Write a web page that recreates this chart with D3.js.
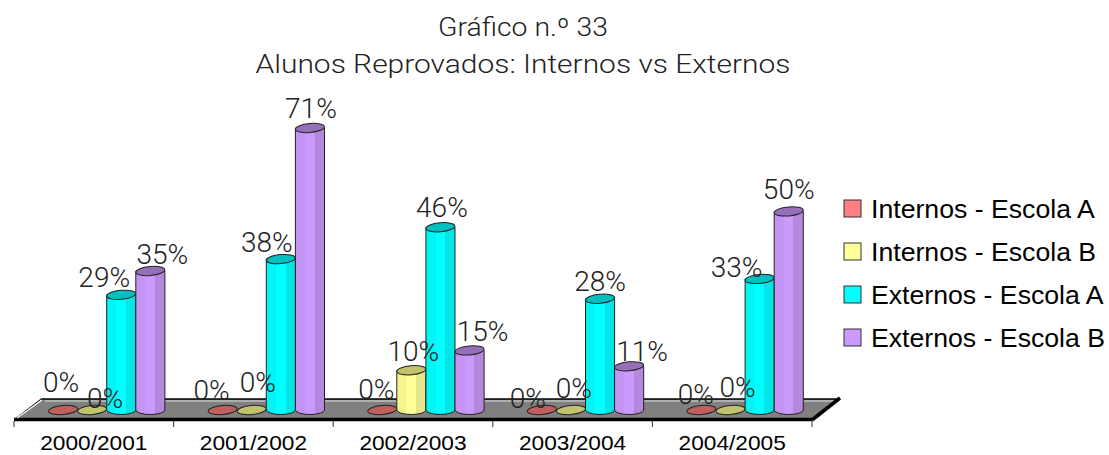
<!DOCTYPE html>
<html>
<head>
<meta charset="utf-8">
<script src="https://cdn.jsdelivr.net/npm/d3@7"></script>
<style>
html, body { margin: 0; background: #fff; }
text { font-family: "Liberation Sans", Arial, sans-serif; }
</style>
</head>
<body>
<script>
const titleLines = ["Gráfico n.º 33", "Alunos Reprovados: Internos vs Externos"];
const years = ["2000/2001", "2001/2002", "2002/2003", "2003/2004", "2004/2005"];
const seriesNames = ["Internos - Escola A", "Internos - Escola B", "Externos - Escola A", "Externos - Escola B"];
const internosA = [0, 0, 0, 0, 0];
const internosB = [0, 0, 10, 0, 0];
const externosA = [29, 38, 46, 28, 33];
const externosB = [35, 71, 15, 11, 50];
const seriesValues = [internosA, internosB, externosA, externosB];

const colors = ["#ff8080", "#ffff99", "#00ffff", "#cc99ff"];
const leftColors = ["#f57a7a", "#f5f590", "#00f5f5", "#c494f5"];
const sideColors = ["#e07070", "#e6e68a", "#00e6e6", "#b588dd"];
const topColors = ["#c05f5f", "#c2c26e", "#00bfbf", "#9470b8"];

const w = 1109, h = 455;
const svg = d3.select("body").append("svg")
    .attr("width", w)
    .attr("height", h)
    .style("display", "block");

// the original text is stretched sideways, so widen it by a factor
function stretch(sel, k) {
    sel.each(function () {
        d3.select(this)
            .attr("textLength", this.getComputedTextLength() * k)
            .attr("lengthAdjust", "spacingAndGlyphs");
    });
}

// scales, the floor runs from 14 to 812 on the front edge
const x = d3.scaleBand().domain(years).range([14, 812]);
const xBar = d3.scaleBand().domain(d3.range(4)).range([34.5, 34.5 + 4 * 29.1]);
const y = d3.scaleLinear().domain([0, 71]).range([410, 128]);

// title
svg.selectAll(".title")
    .data(titleLines)
    .enter()
    .append("text")
    .attr("class", "title")
    .attr("x", 523)
    .attr("y", (d, i) => 36 + i * 37)
    .attr("text-anchor", "middle")
    .attr("font-size", "25px")
    .style("font-family", "Roboto, 'Liberation Sans', sans-serif")
    .style("font-weight", 300)
    .attr("fill", "#222")
    .attr("textLength", (d, i) => [170, 535][i])
    .attr("lengthAdjust", "spacingAndGlyphs")
    .text(d => d);

// floor
const fx0 = x.range()[0], fx1 = x.range()[1];
const depthX = 27, backY = 399, frontY = 419;
svg.append("polygon")
    .attr("points", [[fx0, frontY], [fx0 + depthX, backY], [fx1 + depthX, backY], [fx1, frontY]].join(" "))
    .attr("fill", "#808080");
svg.append("line").attr("x1", fx0 + depthX).attr("x2", fx1 + depthX).attr("y1", backY).attr("y2", backY)
    .attr("stroke", "#000").attr("stroke-width", 1.5);
svg.append("line").attr("x1", fx0 + depthX + 4).attr("x2", fx1 + depthX - 2).attr("y1", backY + 2).attr("y2", backY + 2)
    .attr("stroke", "#ddd").attr("stroke-width", 1);
svg.append("line").attr("x1", fx0).attr("x2", fx1).attr("y1", frontY + 0.5).attr("y2", frontY + 0.5)
    .attr("stroke", "#000").attr("stroke-width", 3.5);
svg.append("line").attr("x1", fx1).attr("x2", fx1 + depthX + 1).attr("y1", frontY + 1).attr("y2", backY - 1)
    .attr("stroke", "#000").attr("stroke-width", 3.5);
svg.append("line").attr("x1", fx0).attr("x2", fx0 + depthX).attr("y1", frontY + 1).attr("y2", backY)
    .attr("stroke", "#000").attr("stroke-width", 1);
svg.append("line").attr("x1", fx0 + 3).attr("x2", fx0 + depthX + 1).attr("y1", frontY - 1).attr("y2", backY + 1)
    .attr("stroke", "#fff").attr("stroke-width", 1.2);

// axis
const axis = d3.axisBottom(x).tickSize(0).tickPadding(16.5);
const axisG = svg.append("g").attr("transform", `translate(0,${frontY})`).call(axis);
axisG.select(".domain").remove();
const tickLabels = axisG.selectAll("text")
    .attr("font-size", "21px")
    .attr("font-family", "Liberation Sans")
    .attr("fill", "#000");
stretch(tickLabels, 1.08);
const tickEdges = years.map(d => x(d)).concat(fx1);
svg.selectAll(".edge")
    .data(tickEdges)
    .enter()
    .append("line")
    .attr("class", "edge")
    .attr("x1", d => d).attr("x2", d => d)
    .attr("y1", frontY + 2).attr("y2", frontY + 8)
    .attr("stroke", "#333");

// facets of the cylinder body
const defs = svg.append("defs");
colors.forEach((c, i) => {
    const g = defs.append("linearGradient").attr("id", `body${i}`);
    [[0, leftColors[i]], [0.33, leftColors[i]], [0.33, c], [0.66, c], [0.66, sideColors[i]], [1, sideColors[i]]].forEach(s => {
        g.append("stop").attr("offset", s[0]).attr("stop-color", s[1]);
    });
});

const rx = xBar.bandwidth() / 2, ry = 4.5;

const bars = [];
seriesValues.forEach((vals, s) => {
    vals.forEach((v, c) => bars.push({ s, c, v }));
});

const group = svg.selectAll(".cyl")
    .data(bars)
    .enter()
    .append("g")
    .attr("class", "cyl")
    .attr("transform", d => `translate(${x(years[d.c]) + xBar(d.s)},0)`);

group.filter(d => d.v > 0)
    .append("path")
    .attr("d", d => {
        const top = y(d.v), bottom = y(0);
        return `M0,${top} L0,${bottom} A${rx},${ry} 0 0 0 ${rx * 2},${bottom} L${rx * 2},${top} Z`;
    })
    .attr("fill", d => `url(#body${d.s})`)
    .attr("stroke", "#222")
    .attr("stroke-width", 1);

// tilted a bit because of the 3d view
group.append("ellipse")
    .attr("cx", rx)
    .attr("cy", d => y(d.v))
    .attr("rx", rx)
    .attr("ry", ry)
    .attr("transform", d => `rotate(-5 ${rx} ${y(d.v)})`)
    .attr("fill", d => topColors[d.s])
    .attr("stroke", "#222")
    .attr("stroke-width", 1);

// data labels were dragged by hand in the original, so each has its own nudge
const labelNudge = {
    "0-0": [-2, -12], "1-0": [13, 4], "2-0": [-17, -2], "3-0": [12, -1],
    "0-1": [-11, -4], "1-1": [6, -12], "2-1": [-14, -1], "3-1": [1, -4],
    "0-2": [-6, -5], "1-2": [2, -3], "2-2": [1.5, -4], "3-2": [13, -3],
    "0-3": [-14, 4], "1-3": [3, -6], "2-3": [0, -2], "3-3": [13, 1],
    "0-4": [-5.5, 0], "1-4": [7, -7], "2-4": [-23, 4], "3-4": [0, -6]
};

svg.selectAll(".val")
    .data(bars)
    .enter()
    .append("text")
    .attr("class", "val")
    .attr("x", d => x(years[d.c]) + xBar(d.s) + rx + labelNudge[`${d.s}-${d.c}`][0])
    .attr("y", d => y(d.v) - 6 + labelNudge[`${d.s}-${d.c}`][1])
    .attr("text-anchor", "middle")
    .attr("font-size", "28px")
    .style("font-family", "Roboto, 'Liberation Sans', sans-serif")
    .style("font-weight", 300)
    .attr("fill", "#222")
    .text(d => `${d.v}%`);

// legend
const legend = svg.selectAll(".legend")
    .data(seriesNames)
    .enter()
    .append("g")
    .attr("class", "legend")
    .attr("transform", (d, i) => `translate(844,${200 + i * 43})`);
legend.append("rect")
    .attr("width", 17)
    .attr("height", 17)
    .attr("fill", (d, i) => colors[i])
    .attr("stroke", "#333");
const legendText = legend.append("text")
    .attr("x", 27)
    .attr("y", 18)
    .attr("font-size", "26px")
    .attr("fill", "#000")
    .text(d => d);
stretch(legendText, 1.025);
</script>
</body>
</html>
